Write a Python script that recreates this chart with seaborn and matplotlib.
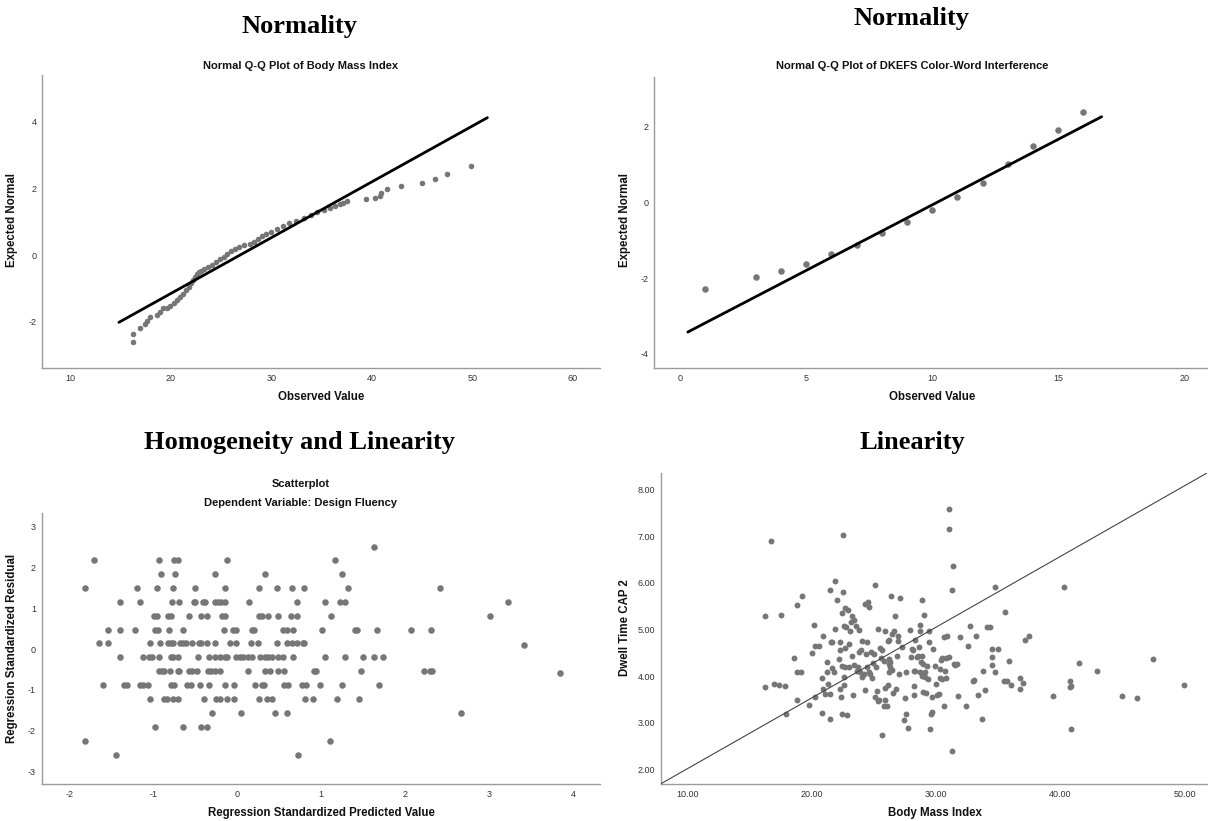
import numpy as np
import pandas as pd
import matplotlib
matplotlib.use("Agg")
import matplotlib.pyplot as plt
import seaborn as sns

# ---------------- Data ----------------
# Panel 1: Normal Q-Q plot of Body Mass Index
bmi_obs = [16.3, 16.3, 16.9, 17.4, 17.6, 17.9, 18.6, 18.9, 19.2, 19.6, 19.9, 20.3, 20.6, 20.9,
           21.2, 21.5, 21.8, 22.0, 22.2, 22.4, 22.6, 22.8, 23.0, 23.3, 23.7, 24.1, 24.5, 24.9,
           25.3, 25.6, 26.0, 26.4, 26.8, 27.3, 27.9, 28.3, 28.7, 29.1, 29.5, 30.0, 30.6, 31.2,
           31.8, 32.5, 33.3, 34.0, 34.6, 35.2, 35.8, 36.3, 36.8, 37.1, 37.5, 39.4, 40.3, 40.8,
           40.9, 41.5, 42.9, 45.0, 46.3, 47.5, 49.9]
bmi_exp = [-2.61, -2.36, -2.20, -2.06, -1.98, -1.87, -1.80, -1.70, -1.59, -1.58, -1.52, -1.44,
           -1.36, -1.27, -1.18, -1.06, -0.95, -0.84, -0.75, -0.66, -0.58, -0.52, -0.47, -0.43,
           -0.36, -0.29, -0.21, -0.13, -0.05, 0.03, 0.13, 0.19, 0.25, 0.29, 0.34, 0.40, 0.47,
           0.56, 0.63, 0.70, 0.79, 0.88, 0.96, 1.03, 1.10, 1.20, 1.28, 1.35, 1.42, 1.48, 1.52,
           1.57, 1.62, 1.69, 1.72, 1.78, 1.87, 1.99, 2.07, 2.17, 2.27, 2.42, 2.68]
bmi_line_x = [14.85, 51.5]
bmi_line_y = [-2.02, 4.12]

# Panel 2: Normal Q-Q plot of DKEFS Color-Word Interference
cwi_obs = [1, 3, 4, 5, 6, 7, 8, 9, 10, 11, 12, 13, 14, 15, 16]
cwi_exp = [-2.28, -1.97, -1.80, -1.62, -1.35, -1.12, -0.81, -0.50, -0.19, 0.16, 0.53, 1.01,
           1.50, 1.91, 2.40]
cwi_line_x = [0.3, 16.72]
cwi_line_y = [-3.42, 2.27]

# Panel 3: Residual scatterplot (Design Fluency)
resid_rows = {
    2.50: [1.63],
    2.17: [-1.71, -0.93, -0.75, -0.71, -0.12, 1.16],
    1.83: [-0.91, -0.74, -0.27, 0.33, 1.25],
    1.50: [-1.81, -1.19, -0.95, -0.77, -0.50, -0.15, 0.26, 0.48, 0.65, 0.80, 1.32, 2.42],
    1.16: [-1.39, -1.16, -0.78, -0.69, -0.52, -0.50, -0.41, -0.38, -0.26, -0.23, -0.19,
           -0.14, 0.14, 0.71, 1.05, 1.23, 1.28, 3.22],
    0.81: [-0.99, -0.96, -0.82, -0.79, -0.57, -0.43, -0.36, -0.18, -0.14, 0.26, 0.30, 0.37,
           0.49, 0.64, 0.71, 1.12, 3.01],
    0.46: [-1.54, -1.39, -1.22, -0.98, -0.94, -0.81, -0.64, -0.16, -0.05, -0.01, 0.18, 0.20,
           0.55, 0.59, 0.66, 1.01, 1.40, 1.43, 1.67, 2.07, 2.31],
    0.15: [-1.64, -1.54, -1.04, -0.92, -0.82, -0.79, -0.76, -0.68, -0.65, -0.61, -0.54, -0.46,
           -0.43, -0.36, -0.27, -0.08, -0.01, 0.17, 0.25, 0.48, 0.59, 0.65, 0.71, 0.78, 0.80],
    0.11: [3.42],
    -0.20: [-1.40, -1.12, -1.05, -1.01, -0.93, -0.79, -0.76, -0.71, -0.47, -0.34, -0.27,
            -0.21, -0.15, -0.12, -0.01, 0.03, 0.07, 0.13, 0.18, 0.27, 0.33, 0.37, 0.41, 0.49,
            0.55, 0.66, 1.04, 1.28, 1.50, 1.63, 1.74],
    -0.54: [-0.93, -0.90, -0.87, -0.80, -0.71, -0.69, -0.57, -0.54, -0.48, -0.35, -0.31,
            -0.26, -0.20, 0.13, 0.33, 0.39, 0.49, 0.56, 0.92, 0.94, 1.47, 2.22, 2.30, 2.32],
    -0.58: [3.84],
    -0.88: [-1.60, -1.35, -1.31, -1.16, -1.12, -1.06, -0.79, -0.75, -0.60, -0.55, -0.44,
            -0.34, -0.15, -0.04, 0.21, 0.30, 0.32, 0.56, 0.60, 0.77, 0.82, 0.99, 1.25, 1.69],
    -1.22: [-1.04, -0.87, -0.84, -0.77, -0.70, -0.39, -0.25, -0.21, -0.12, -0.04, 0.26, 0.35,
            0.42, 0.81, 0.90, 1.19, 1.45],
    -1.57: [-0.30, 0.05, 0.45, 0.59, 2.66],
    -1.91: [-0.98, -0.64, -0.43, -0.36],
    -2.24: [-1.81, 1.11],
    -2.59: [-1.44, 0.73],
}
pred_vals = [p for r, ps in resid_rows.items() for p in ps]
resid_vals = [r for r, ps in resid_rows.items() for p in ps]

# Panel 4: Dwell Time CAP 2 vs Body Mass Index
dwell_bmi = [16.25, 16.25, 16.72, 16.93, 17.34, 17.49, 17.86, 17.89, 18.51, 18.76, 18.82, 18.82,
             19.13, 19.23, 19.78, 20.00, 20.12, 20.22, 20.22, 20.53, 20.77, 20.84, 20.90, 20.90,
             21.05, 21.21, 21.24, 21.30, 21.46, 21.46, 21.46, 21.52, 21.58, 21.61, 21.76, 21.83,
             21.86, 22.01, 22.14, 22.23, 22.26, 22.29, 22.35, 22.38, 22.41, 22.45, 22.51, 22.51,
             22.57, 22.60, 22.60, 22.66, 22.66, 22.69, 22.76, 22.85, 22.91, 22.94, 22.97, 23.07,
             23.10, 23.22, 23.22, 23.31, 23.34, 23.41, 23.56, 23.62, 23.68, 23.75, 23.81, 23.84,
             23.93, 23.99, 24.06, 24.15, 24.24, 24.30, 24.37, 24.40, 24.46, 24.49, 24.55, 24.61,
             24.67, 24.77, 24.83, 24.92, 24.98, 25.05, 25.11, 25.17, 25.23, 25.29, 25.33, 25.42,
             25.48, 25.54, 25.60, 25.63, 25.76, 25.79, 25.85, 25.85, 25.91, 26.07, 26.10, 26.10,
             26.16, 26.16, 26.19, 26.25, 26.22, 26.25, 26.32, 26.41, 26.47, 26.53, 26.63, 26.72,
             26.78, 26.84, 26.93, 26.93, 26.97, 27.09, 27.24, 27.40, 27.46, 27.55, 27.59, 27.71,
             27.86, 27.96, 28.02, 28.14, 28.20, 28.20, 28.20, 28.27, 28.30, 28.48, 28.55, 28.64,
             28.70, 28.70, 28.70, 28.79, 28.82, 28.82, 28.89, 28.95, 28.95, 29.04, 29.07, 29.13,
             29.20, 29.26, 29.35, 29.38, 29.41, 29.47, 29.57, 29.63, 29.66, 29.72, 29.94, 30.00,
             30.06, 30.25, 30.31, 30.34, 30.40, 30.43, 30.50, 30.59, 30.62, 30.68, 30.77, 30.80,
             30.90, 30.99, 30.99, 31.02, 31.30, 31.33, 31.30, 31.46, 31.52, 31.67, 31.76, 31.92,
             32.41, 32.54, 32.69, 32.97, 33.03, 33.22, 33.34, 33.72, 33.75, 33.90, 34.06, 34.33,
             34.46, 34.46, 34.52, 34.74, 34.74, 34.98, 35.48, 35.54, 35.70, 35.82, 36.01, 36.72,
             36.78, 37.00, 37.15, 37.46, 39.38, 40.31, 40.80, 40.80, 40.84, 40.87, 41.52, 42.91,
             44.98, 46.19, 47.46, 49.94]
dwell_time = [3.76, 5.29, 6.89, 3.84, 3.81, 5.31, 3.79, 3.19, 4.38, 4.08, 3.48, 5.52,
              4.08, 5.72, 3.39, 4.50, 5.10, 4.65, 3.55, 4.65, 3.96, 3.20, 4.85, 3.72,
              3.62, 4.30, 4.09, 3.84, 3.61, 3.08, 5.84, 4.74, 4.17, 4.73, 4.09, 5.01,
              6.03, 5.62, 4.36, 4.56, 4.74, 3.72, 3.56, 3.19, 4.21, 5.36, 5.81, 7.02,
              5.07, 3.98, 3.82, 4.19, 4.60, 5.46, 5.05, 3.17, 5.41, 4.68, 4.19, 4.96,
              5.16, 5.29, 4.44, 3.60, 4.23, 5.20, 5.08, 4.12, 4.19, 4.51, 4.98, 4.09,
              4.55, 3.98, 4.76, 4.05, 5.55, 3.71, 4.48, 4.19, 4.73, 5.59, 5.49, 4.09,
              4.04, 4.51, 3.96, 4.29, 4.48, 5.96, 3.55, 4.19, 3.69, 3.46, 5.01, 3.48,
              4.61, 4.39, 4.55, 2.73, 3.36, 4.32, 4.96, 3.75, 3.49, 3.37, 3.81, 4.75,
              4.37, 4.26, 4.09, 4.30, 4.78, 4.19, 5.72, 4.91, 4.14, 3.64, 4.96, 5.29,
              3.73, 4.44, 4.75, 4.85, 4.05, 5.68, 4.62, 3.06, 3.54, 4.09, 3.19, 2.89,
              4.98, 4.42, 4.59, 4.57, 3.60, 3.79, 4.12, 4.78, 4.10, 4.41, 4.43, 4.62,
              5.09, 4.96, 4.09, 4.31, 5.64, 4.01, 4.43, 3.67, 4.26, 5.31, 3.98, 4.09,
              3.64, 4.21, 3.94, 4.96, 4.74, 2.87, 3.19, 3.23, 3.56, 4.59, 4.21, 3.84,
              3.60, 3.62, 4.16, 3.96, 4.35, 3.94, 4.39, 3.35, 4.84, 4.12, 3.95, 4.39,
              4.86, 7.16, 7.57, 4.42, 5.85, 6.36, 2.39, 4.25, 4.23, 4.25, 3.57, 4.84,
              3.37, 4.64, 5.08, 3.89, 3.91, 4.85, 3.60, 3.08, 4.11, 3.71, 5.06, 5.06,
              4.59, 4.23, 4.41, 4.09, 5.91, 4.59, 3.89, 5.37, 3.89, 4.33, 3.82, 3.96,
              3.72, 3.85, 4.78, 4.85, 3.57, 5.91, 3.89, 3.76, 3.79, 2.87, 4.28, 4.10,
              3.57, 3.54, 4.37, 3.81]
dwell_line_x = [7.8, 51.8]
dwell_line_y = [1.69, 8.35]

# Ticks
bmi_xticks = [10, 20, 30, 40, 50, 60]
bmi_yticks = [-2, 0, 2, 4]
cwi_xticks = [0, 5, 10, 15, 20]
cwi_yticks = [-4, -2, 0, 2]
res_xticks = [-2, -1, 0, 1, 2, 3, 4]
res_yticks = [-3, -2, -1, 0, 1, 2, 3]
dw_xticks = [10, 20, 30, 40, 50]
dw_yticks = [2, 3, 4, 5, 6, 7, 8]

# ---------------- Style ----------------
sns.set_theme(style="white")
plt.rcParams['font.family'] = ['Liberation Sans', 'DejaVu Sans']

W, H = 1208, 821
fig = plt.figure(figsize=(W / 100, H / 100), dpi=100)
fig.patch.set_facecolor("white")

DOT = "#767676"
SPINE = "#9a9a9a"
TICKC = "#333333"


def px_axes(l, t, r, b):
    return fig.add_axes([l / W, 1 - b / H, (r - l) / W, (b - t) / H])


def style_ax(ax, xticks, yticks, xlim, ylim, xfmt=None, yfmt=None):
    ax.set_xlim(*xlim)
    ax.set_ylim(*ylim)
    ax.set_xticks(xticks)
    ax.set_yticks(yticks)
    if xfmt:
        ax.set_xticklabels([xfmt.format(v) for v in xticks])
    else:
        ax.set_xticklabels([str(v) for v in xticks])
    if yfmt:
        ax.set_yticklabels([yfmt.format(v) for v in yticks])
    else:
        ax.set_yticklabels([str(v) for v in yticks])
    for s in ["top", "right"]:
        ax.spines[s].set_visible(False)
    for s in ["left", "bottom"]:
        ax.spines[s].set_color(SPINE)
        ax.spines[s].set_linewidth(1.0)
    ax.tick_params(axis="both", length=0, labelsize=6.5, colors=TICKC, pad=4)
    ax.set_xlabel("")
    ax.set_ylabel("")
    ax.set_facecolor("white")
    ax.grid(False)


def fig_title(x, y, s):
    fig.text(x / W, 1 - y / H, s, ha="center", va="center", fontsize=19,
             fontweight="bold", family=["Liberation Serif", "DejaVu Serif"], color="black")


def fig_sub(x, y, s):
    fig.text(x / W, 1 - y / H, s, ha="center", va="center", fontsize=8,
             fontweight="bold", color="#111111")


def xlab(x, y, s):
    fig.text(x / W, 1 - y / H, s, ha="center", va="center", fontsize=8.3,
             fontweight="bold", color="#111111")


def ylab(x, y, s):
    fig.text(x / W, 1 - y / H, s, ha="center", va="center", fontsize=8.3, rotation=90,
             fontweight="bold", color="#111111")


# ---- Panel 1 ----
ax1 = px_axes(42, 75, 600, 368)
sns.scatterplot(x=bmi_obs, y=bmi_exp, ax=ax1, color=DOT, s=16, linewidth=0, zorder=2)
sns.lineplot(x=bmi_line_x, y=bmi_line_y, ax=ax1, color="black", linewidth=2.0, zorder=3)
style_ax(ax1, bmi_xticks, bmi_yticks, (7.2, 62.7), (-3.39, 5.4))
xlab(321, 397, "Observed Value")
ylab(12, 220, "Expected Normal")
fig_title(300, 26, "Normality")
fig_sub(301, 66, "Normal Q-Q Plot of Body Mass Index")

# ---- Panel 2 ----
ax2 = px_axes(654, 77, 1207, 368)
sns.scatterplot(x=cwi_obs, y=cwi_exp, ax=ax2, color=DOT, s=22, linewidth=0, zorder=2)
sns.lineplot(x=cwi_line_x, y=cwi_line_y, ax=ax2, color="black", linewidth=2.0, zorder=3)
style_ax(ax2, cwi_xticks, cwi_yticks, (-1.04, 20.9), (-4.37, 3.32))
xlab(932, 397, "Observed Value")
ylab(625, 220, "Expected Normal")
fig_title(912, 19, "Normality")
fig_sub(912, 66, "Normal Q-Q Plot of DKEFS Color-Word Interference")

# ---- Panel 3 ----
ax3 = px_axes(41.5, 513, 600, 784)
sns.scatterplot(x=pred_vals, y=resid_vals, ax=ax3, color=DOT, s=22, linewidth=0, zorder=2)
style_ax(ax3, res_xticks, res_yticks, (-2.33, 4.32), (-3.30, 3.33))
xlab(321, 813, "Regression Standardized Predicted Value")
ylab(12, 648, "Regression Standardized Residual")
fig_title(300, 442, "Homogeneity and Linearity")
fig_sub(301, 484, "Scatterplot")
fig_sub(301, 503, "Dependent Variable: Design Fluency")

# ---- Panel 4 ----
ax4 = px_axes(660.5, 473, 1207, 784)
sns.scatterplot(x=dwell_bmi, y=dwell_time, ax=ax4, color=DOT, s=18, linewidth=0, zorder=2)
sns.lineplot(x=dwell_line_x, y=dwell_line_y, ax=ax4, color="#444444", linewidth=0.8, zorder=3)
style_ax(ax4, dw_xticks, dw_yticks, (7.8, 51.8), (1.69, 8.35), xfmt="{:.2f}", yfmt="{:.2f}")
xlab(935, 813, "Body Mass Index")
ylab(625, 628, "Dwell Time CAP 2")
fig_title(912, 442, "Linearity")

fig.savefig("out.png", dpi=100, facecolor="white")
